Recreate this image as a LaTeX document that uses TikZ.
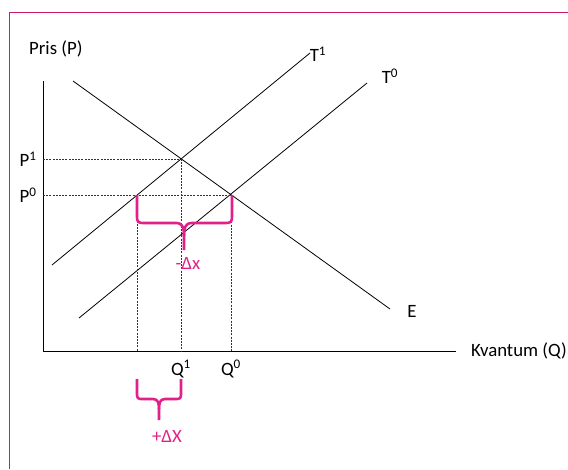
\documentclass[tikz,border=0pt]{standalone}
\usepackage{fontspec}
\setmainfont{Carlito}
\definecolor{framemag}{RGB}{208,24,112}
\definecolor{bracemag}{RGB}{226,32,138}
\begin{document}
\begin{tikzpicture}[x=1pt,y=-1pt,
  lbl/.style={font=\fontsize{18.8}{21}\selectfont, inner sep=0pt},
  curve/.style={line width=0.8pt},
  guide/.style={line width=0.6pt, dash pattern=on 2pt off 1.2pt, black!80},
  bracepath/.style={bracemag, line width=2.6pt, line join=round},
  maglbl/.style={lbl, text=bracemag}]
\useasboundingbox (0,0) rectangle (568,469);
% frame
\draw[framemag, line width=1.5pt] (9.5,469) -- (9.5,12.5) -- (568,12.5);
% axes
\coordinate (ytop) at (43,81);
\coordinate (orig) at (43,351);
\coordinate (xend) at (456,351);
\draw[line width=0.9pt] (ytop) -- (orig) -- (xend);
% curves
\coordinate (E1) at (73,81);
\coordinate (E2) at (390,309);
\coordinate (T1a) at (52,265);
\coordinate (T1b) at (310,53);
\coordinate (T0a) at (79,318);
\coordinate (T0b) at (367,83);
\draw[curve] (E1) -- (E2);
\draw[curve] (T1a) -- (T1b);
\draw[curve] (T0a) -- (T0b);
% key points
\coordinate (A) at (181,159);
\coordinate (B) at (231,195);
\coordinate (C) at (137,195);
\coordinate (P1y) at (43,159);
\coordinate (P0y) at (43,195);
\coordinate (Cx) at (137,351);
\coordinate (Ax) at (181,351);
\coordinate (Bx) at (231,351);
\draw[guide] (P1y) -- (A) -- (Ax);
\draw[guide] (P0y) -- (B) -- (Bx);
\draw[guide] (C) -- (Cx);
% labels
\node[lbl, anchor=west] (pris) at (29,49) {Pris (P)};
\node[lbl, anchor=west] (kv) at (471,351) {Kvantum (Q)};
\node[lbl] (p1) at (28,159) {P\textsuperscript{1}};
\node[lbl] (p0) at (28,195) {P\textsuperscript{0}};
\node[lbl] (q1) at (181,369) {Q\textsuperscript{1}};
\node[lbl] (q0) at (231,369) {Q\textsuperscript{0}};
\node[lbl] (t1) at (318,54) {T\textsuperscript{1}};
\node[lbl] (t0) at (390,76) {T\textsuperscript{0}};
\node[lbl] (e) at (412,311) {E};
% upper brace
\draw[bracepath] (137,195) -- (137,214) .. controls (137,223) .. (146,223) -- (176,223)
  .. controls (183,223) and (184,228) .. (184,236) -- (184,250);
\draw[bracepath] (232,195) -- (232,214) .. controls (232,223) .. (223,223) -- (192,223)
  .. controls (185,223) and (184,228) .. (184,236);
\node[maglbl] (dx) at (188,263) {-Δx};
% lower brace
\draw[bracepath] (137,379) -- (137,392) .. controls (137,399) .. (144,399) -- (153,399)
  .. controls (158,399) and (159,403) .. (159,409) -- (159,420);
\draw[bracepath] (181,379) -- (181,392) .. controls (181,399) .. (174,399) -- (165,399)
  .. controls (160,399) and (159,403) .. (159,409);
\node[maglbl] (dX) at (167,436) {+ΔX};
\end{tikzpicture}
\end{document}
